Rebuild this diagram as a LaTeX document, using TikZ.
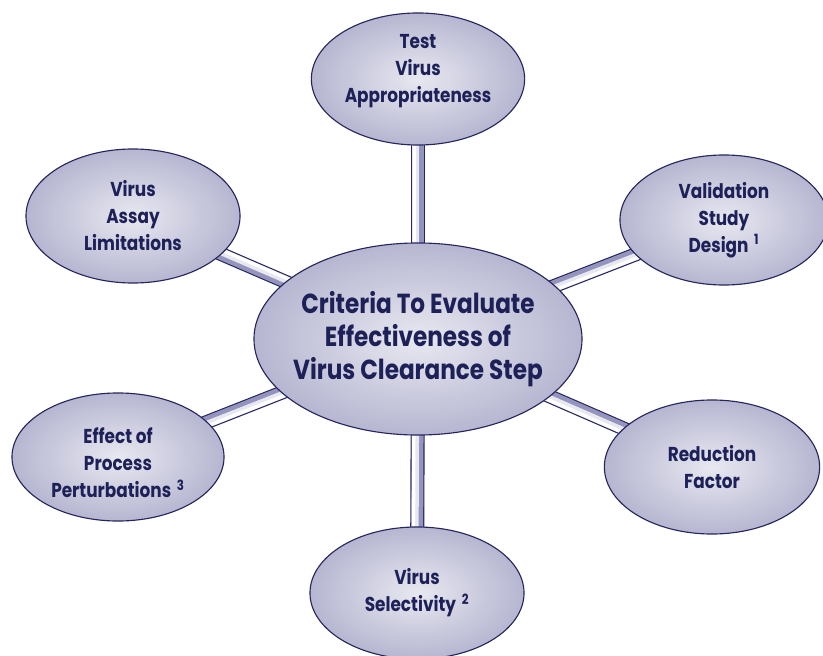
\documentclass[tikz,border=0pt]{standalone}
\usepackage{fontspec}
\setmainfont{Poppins}[FakeStretch=0.84]
\usetikzlibrary{shapes.geometric,backgrounds}

\definecolor{ink}{HTML}{1E2157}
\definecolor{rim}{HTML}{25265E}
\definecolor{lav}{HTML}{8484B1}
\definecolor{haze}{HTML}{E8E8F1}
\definecolor{tube}{HTML}{9494BF}

% light middle, lavender rim
\pgfdeclareradialshading{glow}{\pgfpoint{0bp}{0bp}}{color(0bp)=(haze); color(50bp)=(lav)}

\newcommand{\fnote}[1]{\hspace{4pt}\textsuperscript{#1}}

\tikzset{
  bubble/.style={ellipse, draw=rim, line width=0.8pt, shading=glow,
    text=ink, align=center, inner sep=0pt,
    font=\bfseries\fontsize{14.3}{19.2}\selectfont},
  core/.style={bubble, inner xsep=-14pt, font=\bfseries\fontsize{19.6}{23.5}\selectfont},
  % #1 = side on which the tube catches the light
  pipe/.style={draw=rim, line width=10pt,
    postaction={draw=tube, line width=8.4pt},
    postaction={draw=haze, line width=5pt, transform canvas={shift={(#1:1.5pt)}}},
    postaction={draw=white, line width=2.4pt, transform canvas={shift={(#1:2.7pt)}}}}
}

\begin{document}
\begin{tikzpicture}[x=0.025cm, y=-0.025cm]
  \useasboundingbox (0,0) rectangle (823,656);

  %% middle
  \node[core, minimum width=8.2cm, minimum height=4.8cm] (hub) at (418,339)
    {Criteria To Evaluate\\Effectiveness of\\Virus Clearance Step};

  %% the six criteria
  \node[bubble, minimum width=5.33cm, minimum height=3.3cm, text depth=0.55cm] (top) at (418,79)
    {Test\\Virus\\Appropriateness};
  \node[bubble, minimum width=5.2cm, minimum height=3.25cm] (topright) at (724,220)
    {Validation\\Study\\Design\fnote{1}};
  \node[bubble, minimum width=5.38cm, minimum height=3.35cm] (botright) at (712,467)
    {Reduction\\Factor};
  \node[bubble, minimum width=5.35cm, minimum height=3.3cm] (bottom) at (417,593)
    {Virus\\Selectivity\fnote{2}};
  \node[bubble, minimum width=5.3cm, minimum height=3.2cm, text height=2.03cm] (botleft) at (118,457)
    {Effect of\\Process\\Perturbations\fnote{3}};
  \node[bubble, minimum width=5.35cm, minimum height=3.35cm] (topleft) at (133,216)
    {Virus\\Assay\\Limitations};

  %% tubes behind the bubbles
  \begin{scope}[on background layer]
    \foreach \n/\a in {top/180, topright/-69, botright/-114, bottom/180, botleft/-68, topleft/66}
      \draw[pipe=\a] (hub.center) -- (\n.center);
  \end{scope}
\end{tikzpicture}
\end{document}
